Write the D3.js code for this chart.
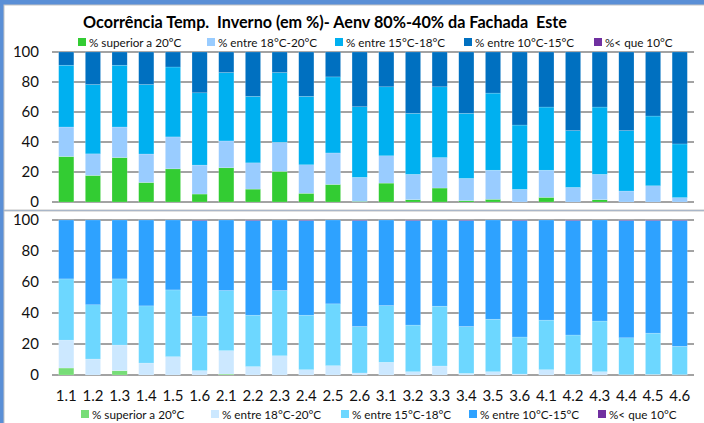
<!DOCTYPE html>
<html>
<head>
<meta charset="utf-8">
<script src="https://cdn.jsdelivr.net/npm/d3@7"></script>
<style>
  body { margin: 0; background: #fff; }
  svg { display: block; font-family: Lato, "Open Sans", sans-serif; }
</style>
</head>
<body>
<svg id="chart" width="704" height="423"></svg>
<script>
// categories
var categories = ["1.1","1.2","1.3","1.4","1.5","1.6","2.1","2.2","2.3","2.4","2.5","2.6",
                  "3.1","3.2","3.3","3.4","3.5","3.6","4.1","4.2","4.3","4.4","4.5","4.6"];
var seriesNames = ["% superior a 20ºC", "% entre 18°C-20°C", "% entre 15°C-18°C", "% entre 10°C-15°C", "%< que 10°C"];
var yTicks = [0, 20, 40, 60, 80, 100];

// top panel (%)
var topSup20 = [30.3,17.7,29.6,13.0,22.1,5.3,22.8,8.6,20.4,5.8,11.7,0.4,12.6,1.5,9.3,0.9,1.8,0,3.1,0,1.5,0,0,0];
var topE1820 = [19.7,14.4,20.4,19.0,21.3,19.3,17.9,17.5,19.4,19.0,21.0,16.0,18.2,16.9,20.3,14.8,19.4,8.4,18.1,9.7,16.9,7.3,10.8,2.9];
var topE1518 = [41.2,46.2,41.2,46.3,46.6,48.2,45.6,44.3,46.5,45.6,50.7,47.1,46.0,40.7,47.2,43.4,51.4,42.9,42.1,37.9,44.9,40.3,46.5,35.8];
var topE1015 = [8.8,21.7,8.8,21.7,10.0,27.2,13.7,29.6,13.7,29.6,16.6,36.5,23.2,40.9,23.2,40.9,27.4,48.7,36.7,52.4,36.7,52.4,42.7,61.3];
var topLt10  = [0,0,0,0,0,0,0,0,0,0,0,0,0,0,0,0,0,0,0,0,0,0,0,0];

// bottom panel (%)
var botSup20 = [4.5,0,2.8,0,0,0,0.6,0,0,0,0,0,0,0,0,0,0,0,0,0,0,0,0,0];
var botE1820 = [18.0,10.3,16.5,7.7,11.8,2.8,15.1,5.4,12.4,3.4,6.0,1.3,8.2,2.1,5.8,1.0,2.1,0.6,3.4,0.4,2.1,0.2,0.4,0.2];
var botE1518 = [39.5,35.0,42.7,36.9,43.1,35.2,38.8,33.2,42.1,35.2,39.9,30.0,36.6,30.1,38.6,30.3,33.9,23.9,32.0,25.4,32.7,23.8,26.6,18.3];
var botE1015 = [38.0,54.7,38.0,55.4,45.1,61.7,45.5,61.1,45.5,61.1,54.1,68.4,55.2,67.5,55.6,68.4,64.0,75.2,64.6,73.9,65.2,75.7,72.7,81.2];
var botLt10  = [0,0,0,0,0,0.3,0,0.3,0,0.3,0,0.3,0,0.3,0,0.3,0,0.3,0,0.3,0,0.3,0.3,0.3];

var topColors = ["#33cc33", "#99ccff", "#00b0f0", "#0070c0", "#7030a0"];
var botColors = ["#77dd77", "#cce8ff", "#6dd7ff", "#2ea2ff", "#7030a0"];

var svg = d3.select("#chart");

// window frame
svg.append("rect").attr("x", 0).attr("y", 0).attr("width", 704).attr("height", 423).style("fill", "#5a8fd6");
svg.append("rect").attr("x", 4).attr("y", 5).attr("width", 702).attr("height", 205)
   .style("fill", "#fff").style("stroke", "#c4c4c4").style("stroke-width", 1);
svg.append("rect").attr("x", 4).attr("y", 211).attr("width", 702).attr("height", 214)
   .style("fill", "#fff").style("stroke", "#c4c4c4").style("stroke-width", 1);

var x = d3.scaleBand().domain(categories).range([52, 694]).paddingInner(0.43).paddingOuter(0.25);

function rows(a, b, c, d, e) {
  return categories.map(function(cat, i) {
    return { cat: cat, s0: a[i], s1: b[i], s2: c[i], s3: d[i], s4: e[i] };
  });
}

function panel(data, colors, y0, y1) {
  var y = d3.scaleLinear().domain([0, 100]).range([y1, y0]);
  var g = svg.append("g");

  // gridlines
  g.selectAll(".grid").data(yTicks).enter().append("line")
    .attr("x1", 52).attr("x2", 694)
    .attr("y1", function(d){ return y(d); }).attr("y2", function(d){ return y(d); })
    .style("stroke", "#a3a3a3").style("stroke-width", 2);

  var yAxis = d3.axisLeft(y).tickValues(yTicks).tickSize(0).tickPadding(0);
  var ya = g.append("g").attr("transform", "translate(39,0)").call(yAxis);
  ya.select(".domain").remove();
  ya.selectAll("text").style("font-family", "Lato").style("font-size", "15px").style("fill", "#111");

  var stack = d3.stack().keys(["s0", "s1", "s2", "s3", "s4"]);
  var layers = stack(data);
  g.selectAll(".layer").data(layers).enter().append("g")
    .style("fill", function(d, i){ return colors[i]; })
    .selectAll("rect").data(function(d){ return d; }).enter().append("rect")
    .attr("x", function(d){ return x(d.data.cat); })
    .attr("width", x.bandwidth())
    .attr("y", function(d){ return y(d[1]); })
    .attr("height", function(d){ return Math.max(0, y(d[0]) - y(d[1])); })
    .style("stroke", "#fff").style("stroke-opacity", 0.35).style("stroke-width", 0.5);
}

panel(rows(topSup20, topE1820, topE1518, topE1015, topLt10), topColors, 52, 202);
panel(rows(botSup20, botE1820, botE1518, botE1015, botLt10), botColors, 220, 375);

// x labels
var xAxis = d3.axisBottom(x).tickSize(0).tickPadding(0);
var xa = svg.append("g").attr("transform", "translate(0,390)").call(xAxis);
xa.select(".domain").remove();
xa.selectAll("text").style("font-family", "Lato").style("font-size", "15px").style("fill", "#111");

// title
svg.append("text").attr("x", 325).attr("y", 21).text("Ocorrência Temp.  Inverno (em %)- Aenv 80%-40% da Fachada  Este")
   .style("font-family", "Lato").style("font-weight", "700").style("font-size", "16.2px")
   .style("fill", "#000").attr("text-anchor", "middle").attr("dominant-baseline", "central")
   .style("white-space", "pre").attr("xml:space", "preserve");

// legends
var topLegX = [78, 207, 335, 464, 594];
var botLegX = [81, 211, 341, 469, 598];

function legend(xs, colors, yc, size) {
  var lg = svg.append("g").selectAll("g").data(seriesNames).enter().append("g");
  lg.append("rect")
    .attr("x", function(d, i){ return xs[i]; }).attr("y", yc - 4)
    .attr("width", 8).attr("height", 8)
    .style("fill", function(d, i){ return colors[i]; });
  lg.append("text")
    .attr("x", function(d, i){ return xs[i] + 11; }).attr("y", yc)
    .text(function(d){ return d; })
    .style("font-family", "Lato").style("font-size", size).style("fill", "#111")
    .attr("dominant-baseline", "central");
}
legend(topLegX, topColors, 42, "11.7px");
legend(botLegX, botColors, 414, "11.7px");
</script>
</body>
</html>
